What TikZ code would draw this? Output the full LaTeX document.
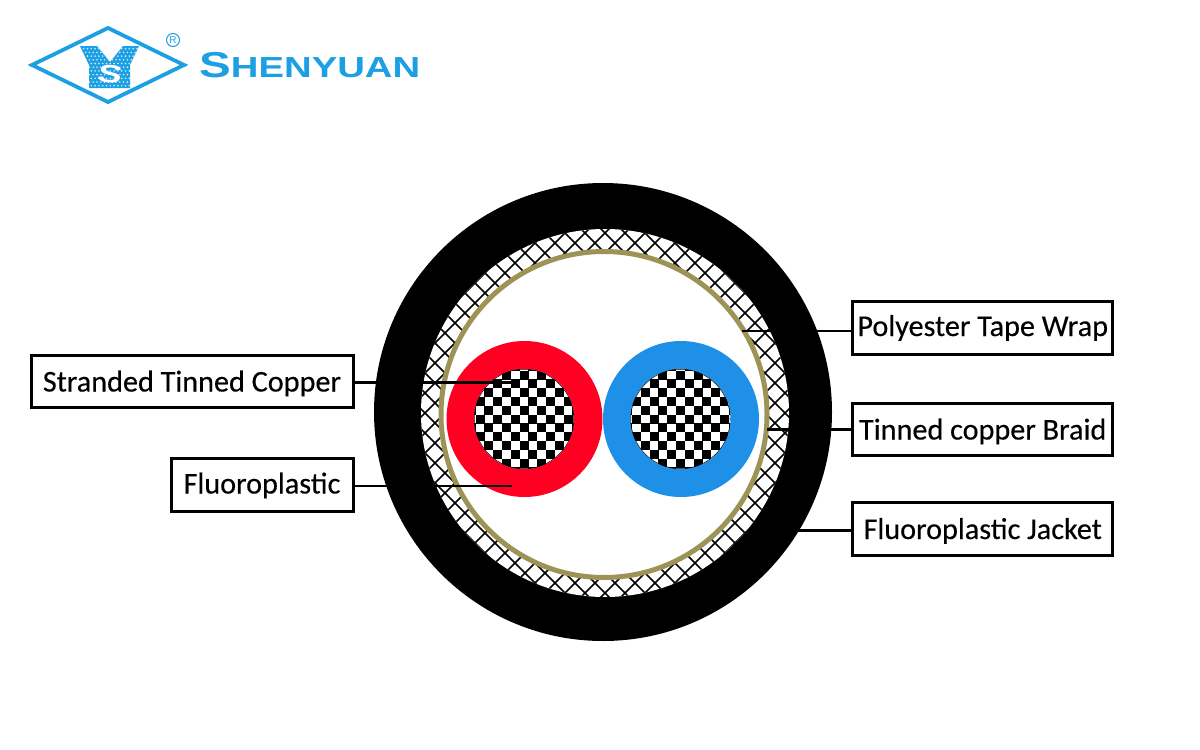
\documentclass[tikz,border=0pt]{standalone}
\usepackage{fontspec}
\setmainfont{Carlito}[FakeBold=0.35]
\newfontfamily\logofont{Liberation Sans}
\usetikzlibrary{positioning}
\definecolor{logoblue}{HTML}{1C9FE3}
\definecolor{wrapTan}{HTML}{9E9357}
\definecolor{coreRed}{HTML}{FF0022}
\definecolor{coreBlue}{HTML}{1F90E8}
\tikzset{
  labelbox/.style={draw, line width=3pt, align=center, minimum height=52.5pt,
    inner sep=0pt, text height=24pt, text depth=4pt, font=\fontsize{30.2}{32}\selectfont},
  leader/.style={line width=2.6pt, draw=black},
  disc/.style={circle, inner sep=0pt, outer sep=0pt},
  mesh/.style={line width=1.6pt, draw=black},
  checkcell/.style={fill=black}
}
\newcommand{\conductor}[2]{%
  \begin{scope}
    \clip (#1,#2) circle (50);
    \fill[white] (#1-51,#2-51) rectangle (#1+51,#2+51);
    \foreach \i in {-6,...,6}
      \foreach \j in {-6,...,6} {
        \pgfmathtruncatemacro{\k}{mod(abs(\i+\j),2)}
        \ifnum\k=1
          \fill[checkcell] (#1-4.5+8.8*\i,#2-4.5+8.8*\j) rectangle ++(9,9);
        \fi
      }
    \draw[line width=1pt] (#1,#2) circle (50);
  \end{scope}
}
\begin{document}
\begin{tikzpicture}[x=1pt,y=-1pt]
  \useasboundingbox (0,0) rectangle (1200,750);
  % logo
  \draw[logoblue, line width=3.8pt, miter limit=10] (32,65) -- (108,28) -- (184,65) -- (108,102) -- cycle;
  \begin{scope}
    \clip (80,46) -- (97,46) -- (110,62) -- (123,46) -- (139,46) -- (130,65) -- (130,88) -- (89,88) -- (89,65) -- cycle;
    \fill[logoblue] (75,40) rectangle (145,92);
    \foreach \i in {0,...,17}
      \foreach \j in {0,...,12} {
        \pgfmathsetmacro{\dotx}{78+3.8*\i+1.9*mod(\j,2)}
        \fill[white!80!logoblue] (\dotx,45+3.7*\j) circle (0.9);
      }
  \end{scope}
  \node[white, font=\logofont\bfseries\fontsize{25}{25}\selectfont, xscale=1.45, rotate=-8, transform shape] (logoS) at (110,74) {S};
  \node[disc, draw=logoblue, line width=1pt, minimum size=13pt, text=logoblue, font=\logofont\fontsize{10}{10}\selectfont] (regmark) at (173,40) {R};
  \node[anchor=base west, inner sep=0pt, text=logoblue, font=\logofont\bfseries, xscale=1.32, transform shape] (brand) at (199,77)
    {{\fontsize{36}{36}\selectfont S}{\fontsize{29}{29}\selectfont HENYUAN}};
  % cable
  \node[disc, fill=black, minimum size=458pt] (jacket) at (603,412) {};
  \node[disc, fill=white, minimum size=368pt] (braid) at (605,413) {};
  \begin{scope}
    \clip (605,413) circle (184);
    \foreach \d in {-400,-380,...,400} {
      \draw[mesh] (605+\d-200,413-200) -- (605+\d+200,413+200);
      \draw[mesh] (605+\d+200,413-200) -- (605+\d-200,413+200);
    }
  \end{scope}
  \node[disc, draw=wrapTan, fill=white, line width=5pt, minimum size=326pt] (wrap) at (604,414.5) {};
  \node[disc, fill=coreRed, minimum size=156pt] (redcore) at (524.5,419) {};
  \node[disc, fill=coreBlue, minimum size=156pt] (bluecore) at (681,419) {};
  \conductor{524}{419}
  \conductor{680.5}{419}
  % labels
  \node[labelbox, minimum width=260.5pt, text height=20pt] (tape) at (982.7,328) {Polyester Tape Wrap};
  \node[labelbox, minimum width=260.5pt, below=46pt of tape] (tinbraid) {Tinned copper Braid};
  \node[labelbox, minimum width=260.5pt, below=44pt of tinbraid] (outer) {Fluoroplastic Jacket};
  \node[labelbox, minimum width=322pt] (stranded) at (192,381.5) {Stranded Tinned Copper};
  \node[labelbox, minimum width=182pt, text height=21pt, below=48pt of stranded.south east, anchor=north east] (fluoro) {Fluoroplastic};
  \coordinate (tapeend) at (742,331);
  \coordinate (braidend) at (767,429.3);
  \coordinate (outerend) at (797,530.7);
  \coordinate (copperend) at (512,382.7);
  \coordinate (fluoroend) at (512,486);
  \draw[leader] (tape.west |- tapeend) -- (tapeend);
  \draw[leader] (tinbraid.west |- braidend) -- (braidend);
  \draw[leader] (outer.west |- outerend) -- (outerend);
  \draw[leader] (stranded.east |- copperend) -- (copperend);
  \draw[leader] (fluoro.east |- fluoroend) -- (fluoroend);
\end{tikzpicture}
\end{document}
